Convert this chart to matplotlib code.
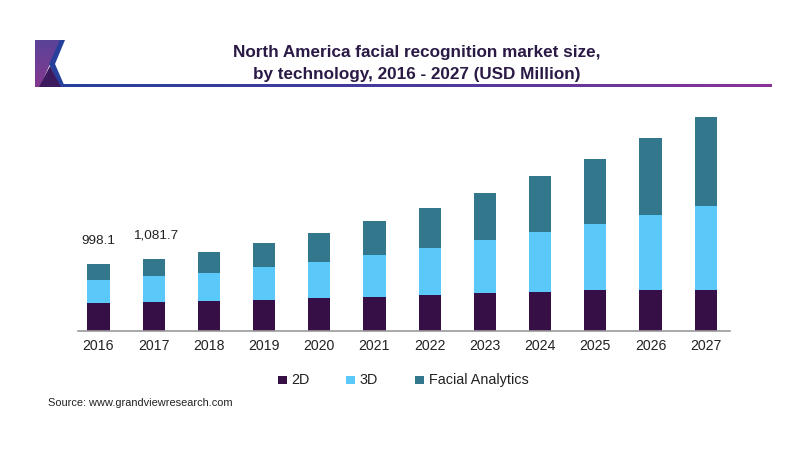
import numpy as np
import matplotlib
matplotlib.use('Agg')
import matplotlib.pyplot as plt
from matplotlib.colors import LinearSegmentedColormap
from matplotlib.patches import Polygon

years = ['2016', '2017', '2018', '2019', '2020', '2021',
         '2022', '2023', '2024', '2025', '2026', '2027']
vals_2d = [414, 430, 446, 470, 490, 510, 540, 570, 590, 610, 620, 622]
vals_3d = [350, 395, 429, 495, 549, 630, 705, 795, 891, 995, 1116, 1256]
vals_fa = [234.1, 256.7, 310, 360, 435, 510, 600, 705, 845, 980, 1155, 1325]
totals_shown = {0: '998.1', 1: '1,081.7'}

plt.rcParams['font.family'] = ['Liberation Sans', 'DejaVu Sans']

W, H = 800, 450
fig = plt.figure(figsize=(8, 4.5), dpi=100)

ax = fig.add_axes([78 / W, 1 - 331 / H, (730 - 78) / W, (331 - 100) / H])
x = np.arange(len(years))
b2 = np.array(vals_2d)
b3 = np.array(vals_3d)
bf = np.array(vals_fa)
ax.bar(x, b2, 0.4, color='#360f47', label='2D')
ax.bar(x, b3, 0.4, bottom=b2, color='#5ac8f8', label='3D')
ax.bar(x, bf, 0.4, bottom=b2 + b3, color='#32778c', label='Facial Analytics')
ax.set_xlim(-0.371, 11.44)
ax.set_ylim(0, 3465)
ax.set_yticks([])
ax.set_xticks(x)
ax.set_xticklabels(years, fontsize=10.2, color='#222222')
ax.tick_params(axis='x', length=0, pad=6)
for s in ['top', 'left', 'right']:
    ax.spines[s].set_visible(False)
ax.spines['bottom'].set_color('#9a9a9a')
ax.spines['bottom'].set_linewidth(1.2)

fig.text(81 / W, 1 - 241 / H, totals_shown[0], fontsize=9.7, color='#222222', va='center')
fig.text(133 / W, 1 - 235 / H, totals_shown[1], fontsize=9.7, color='#222222', va='center')

fig.text(417 / W, 1 - 63.5 / H, 'North America facial recognition market size,\nby technology, 2016 - 2027 (USD Million)',
         fontsize=12.3, fontweight='bold', color='#2a1a45', ha='center', va='center', linespacing=1.53)

# header logo and rule
over = fig.add_axes([0, 0, 1, 1])
over.patch.set_alpha(0)
over.axis('off')
grad = np.linspace(0, 1, 64).reshape(-1, 1)
cmap = LinearSegmentedColormap.from_list('logo', ['#5a4399', '#84398f'])
im = over.imshow(grad, extent=(35, 65, 87, 40), cmap=cmap, aspect='auto')
clip = Polygon([(35, 40), (61, 40), (50, 64), (40, 87), (35, 87)], transform=over.transData, fc='none', ec='none')
over.add_patch(clip)
im.set_clip_path(clip)
rule = np.linspace(0, 1, 256).reshape(1, -1)
rule_cmap = LinearSegmentedColormap.from_list('rule', ['#26409c', '#4a3a9c', '#8a3398'])
over.imshow(rule, extent=(60, 772, 87.5, 85), cmap=rule_cmap, aspect='auto')
over.set_xlim(0, W)
over.set_ylim(H, 0)
over.add_patch(Polygon([(60, 40), (65, 40), (55, 64), (65, 87), (60, 87), (49, 64)], fc='#27409c', ec='none'))
over.add_patch(Polygon([(39, 87), (50, 66), (61, 87)], fc='#3d1a5e', ec='none'))

# legend drawn by hand to keep the uneven gaps
for lx, off, c, name in [(278, 13, '#360f47', '2D'), (346, 13, '#5ac8f8', '3D'), (415, 14, '#32778c', 'Facial Analytics')]:
    over.add_patch(Polygon([(lx, 375.5), (lx + 9, 375.5), (lx + 9, 384), (lx, 384)], fc=c, ec='none'))
    over.text(lx + off, 380, name, fontsize=10.4, color='#222222', va='center')

over.text(48, 403, 'Source: www.grandviewresearch.com', fontsize=7.9, color='#222222', va='center')

fig.savefig('out.png', dpi=100)
